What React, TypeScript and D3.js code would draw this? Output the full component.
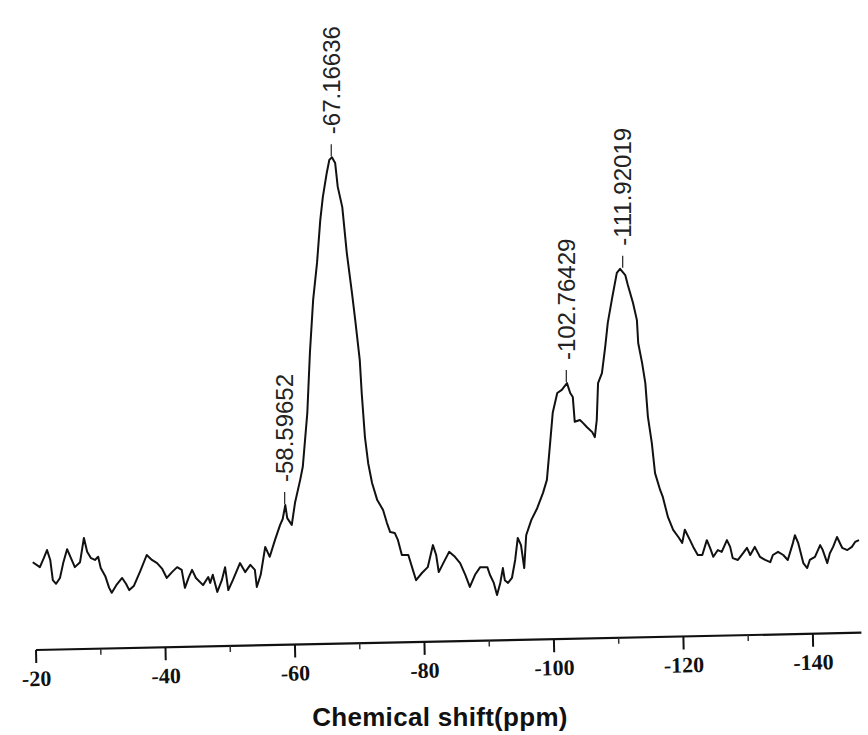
import React from "react";
import * as d3 from "d3";

// Chemical shift (ppm, shown negated on the axis) and intensity (arbitrary units)
const shiftPpm = [
  19.5, 20.6, 21.2, 21.7, 22.2, 22.6, 23.1, 23.7, 24.2, 24.8, 25.4, 26.0, 26.8, 27.4, 27.9, 28.5, 29.1, 29.6, 30.0, 30.7,
  31.3, 31.7, 32.4, 33.3, 33.9, 34.4, 35.1, 36.1, 37.1, 37.9, 38.7, 39.5, 40.2, 41.0, 41.8, 42.5, 43.0, 43.6, 44.1, 44.7,
  45.8, 46.6, 46.9, 47.3, 48.0, 48.7, 49.2, 49.7, 50.4, 51.5, 52.3, 53.1, 53.8, 54.1, 54.7, 55.4, 56.1, 56.9, 57.7, 58.1,
  58.5, 58.8, 59.5, 60.0, 60.8, 61.2, 61.9, 62.3, 62.8, 63.4, 63.9, 64.3, 64.9, 65.3, 65.7, 66.2, 66.6, 67.3, 68.0, 68.8,
  69.3, 70.0, 70.3, 70.8, 71.3, 71.9, 72.7, 73.6, 74.2, 74.7, 75.4, 75.9, 76.5, 77.5, 78.2, 78.7, 79.6, 80.5, 81.3, 81.8,
  82.2, 82.9, 83.8, 84.7, 85.5, 86.3, 87.0, 87.8, 88.6, 89.7, 90.1, 90.7, 91.2, 91.7, 92.1, 92.4, 92.9, 93.5, 94.0, 94.4,
  94.9, 95.4, 95.7, 96.5, 97.4, 98.3, 98.9, 99.4, 99.8, 100.5, 101.2, 102.0, 102.5, 102.9, 103.2, 104.0, 104.5, 105.1, 105.9, 106.3,
  106.6, 106.8, 107.4, 107.9, 108.3, 109.0, 109.7, 110.2, 111.0, 111.4, 112.2, 112.8, 113.0, 113.6, 114.1, 114.5, 115.1, 115.6, 116.4, 116.8,
  117.6, 118.4, 119.2, 119.8, 120.2, 121.0, 121.5, 122.2, 122.9, 123.6, 124.1, 124.6, 125.3, 125.9, 126.7, 127.2, 127.6, 128.4, 129.2, 129.8,
  130.3, 131.0, 131.8, 132.6, 133.4, 133.8, 134.6, 135.4, 136.1, 136.9, 137.2, 137.7, 138.5, 139.1, 139.5, 140.3, 141.1, 141.5, 142.2, 142.6,
  143.1, 143.7, 144.5, 145.3, 146.0, 146.5, 147.1,
];

const intensity = [
  8.4, 7.3, 9.3, 11.1, 8.9, 4.4, 3.6, 4.9, 8.2, 11.3, 9.3, 7.3, 8.4, 13.8, 10.7, 9.3, 8.9, 9.6, 7.1, 5.3,
  2.7, 1.6, 3.3, 4.9, 3.6, 2.2, 3.1, 6.4, 10.0, 8.9, 8.2, 6.9, 4.9, 6.2, 7.3, 6.7, 2.7, 5.1, 6.7, 4.9,
  3.3, 5.1, 3.8, 5.6, 1.8, 4.4, 7.3, 2.2, 4.4, 8.2, 6.2, 7.8, 6.7, 2.9, 5.6, 11.8, 9.6, 13.3, 16.7, 18.0,
  21.1, 18.2, 16.7, 21.6, 26.7, 29.6, 41.6, 54.9, 66.7, 74.9, 84.4, 89.6, 94.9, 97.8, 98.4, 97.1, 91.8, 87.3, 77.1, 68.2,
  62.2, 53.3, 46.0, 36.2, 30.4, 26.0, 22.2, 20.0, 17.1, 15.1, 14.9, 13.3, 10.0, 10.0, 6.7, 4.4, 6.0, 7.3, 12.2, 10.0,
  6.2, 8.2, 10.7, 9.6, 8.2, 5.6, 2.9, 5.6, 7.3, 7.3, 5.6, 3.8, 1.1, 3.8, 7.1, 4.4, 3.8, 4.9, 8.9, 13.8,
  12.2, 7.1, 14.4, 17.8, 20.4, 23.8, 26.7, 34.9, 41.6, 46.0, 46.7, 48.2, 46.0, 45.1, 39.6, 40.0, 39.3, 38.4, 37.3, 36.2,
  40.0, 48.2, 50.4, 56.2, 61.6, 67.3, 72.7, 73.6, 72.2, 70.0, 66.0, 62.2, 57.1, 52.7, 48.2, 40.7, 34.9, 28.2, 24.4, 22.9,
  18.4, 15.6, 14.0, 12.7, 15.6, 13.3, 11.8, 10.0, 10.0, 13.3, 11.6, 9.6, 11.1, 10.7, 13.3, 11.8, 9.3, 8.9, 10.4, 11.6,
  10.0, 11.8, 9.6, 8.9, 8.4, 10.0, 10.7, 10.0, 8.9, 12.7, 14.4, 12.7, 8.2, 7.1, 8.9, 9.6, 12.2, 11.1, 8.2, 10.4,
  11.8, 14.0, 11.6, 11.1, 11.8, 12.9, 13.3,
];

// Peak annotations
const peakLabels = ["-58.59652", "-67.16636", "-102.76429", "-111.92019"];
const peakPpm = [58.4, 65.6, 101.9, 110.6];
const peakTop = [21.1, 98.4, 48.2, 73.6];

// Axis ticks
const majorTicks = [20, 40, 60, 80, 100, 120, 140];
const majorTickLabels = ["-20", "-40", "-60", "-80", "-100", "-120", "-140"];
const minorTicks = [30, 50, 70, 90, 110, 130];
const axisDomain = [20, 147.5];
const axisTitle = "Chemical shift(ppm)";

export default function App() {
  const W = 868;
  const H = 735;
  const x = d3.scaleLinear().domain(axisDomain).range([36, 861.6]);
  const y = d3.scaleLinear().domain([0, 100]).range([600, 150]);
  const pts = shiftPpm.map((p, i) => [p, intensity[i]] as [number, number]);
  const line = d3
    .line<[number, number]>()
    .x((d) => x(d[0]))
    .y((d) => y(d[1]));

  const axisY = 650;
  const x0 = x(axisDomain[0]);
  const sans = "'Liberation Sans', Arial, sans-serif";
  const serif = "'Liberation Serif', 'Times New Roman', serif";

  return (
    <svg
      width={W}
      height={H}
      viewBox={`0 0 ${W} ${H}`}
      style={{ position: "absolute", left: 0, top: 0, background: "#fff" }}
    >
      <rect x={0} y={0} width={W} height={H} fill="#fff" />
      <path d={line(pts) || ""} fill="none" stroke="#111" strokeWidth={2} strokeLinejoin="round" />

      {peakLabels.map((t, i) => {
        const px = x(peakPpm[i]);
        const py = y(peakTop[i]);
        return (
          <g key={t}>
            <line x1={px} x2={px} y1={py - 1} y2={py - 13} stroke="#333" strokeWidth={1.3} />
            <text
              transform={`translate(${px},${py - 23}) rotate(-90)`}
              dy="0.36em"
              fontFamily={sans}
              fontSize={24}
              fill="#222"
            >
              {t}
            </text>
          </g>
        );
      })}

      <g transform={`rotate(-1.2, ${x0}, ${axisY})`}>
        <line x1={x(axisDomain[0])} x2={x(axisDomain[1])} y1={axisY} y2={axisY} stroke="#111" strokeWidth={2.2} />
        {majorTicks.map((t, i) => (
          <g key={t}>
            <line x1={x(t)} x2={x(t)} y1={axisY} y2={axisY + 13} stroke="#111" strokeWidth={2} />
            <text
              x={x(t)}
              y={axisY + 36}
              textAnchor="middle"
              fontFamily={serif}
              fontWeight="bold"
              fontSize={22}
              fill="#111"
            >
              {majorTickLabels[i]}
            </text>
          </g>
        ))}
        {minorTicks.map((t) => (
          <line key={t} x1={x(t)} x2={x(t)} y1={axisY} y2={axisY + 6} stroke="#333" strokeWidth={1.5} />
        ))}
      </g>

      <text
        x={440}
        y={726}
        textAnchor="middle"
        fontFamily={sans}
        fontWeight="bold"
        fontSize={26}
        letterSpacing={0.3}
        fill="#111"
      >
        {axisTitle}
      </text>
    </svg>
  );
}
